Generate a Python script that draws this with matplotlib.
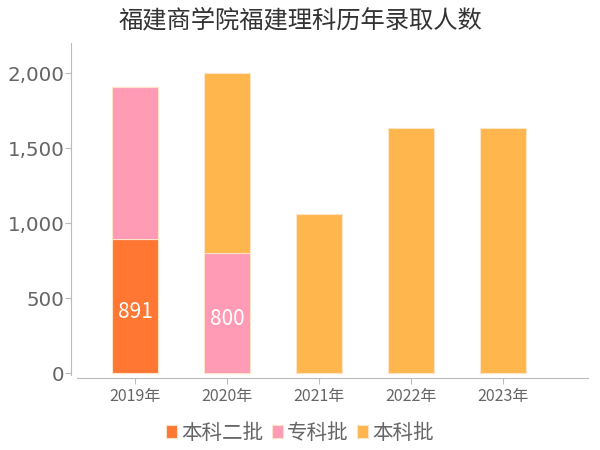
import numpy as np
import matplotlib
matplotlib.use("Agg")
import matplotlib.pyplot as plt

plt.rcParams['font.family'] = ['Noto Sans CJK SC', 'DejaVu Sans']

years = ["2019年", "2020年", "2021年", "2022年", "2023年"]
benke2 = [891, 0, 0, 0, 0]        # 本科二批
zhuanke = [1016, 800, 0, 0, 0]     # 专科批
benke = [0, 1200, 1062, 1632, 1632]  # 本科批

series = [("本科二批", benke2, "#ff7733"),
          ("专科批", zhuanke, "#ff9bb5"),
          ("本科批", benke, "#ffb74d")]

fig = plt.figure(figsize=(6, 4.5), dpi=100)
ax = fig.add_axes([77 / 600, 0.16, 511 / 600, 0.7444])

x = np.arange(len(years))
bottom = np.zeros(len(years))
for name, vals, col in series:
    vals = np.array(vals, dtype=float)
    ax.bar(x, vals, 0.5, bottom=bottom, color=col, edgecolor="#fde3c8",
           linewidth=0.8, label=name)
    for i, v in enumerate(vals):
        if v > 0 and v < 900:
            # label in the middle of the segment, nudged down a bit
            ax.annotate(f"{int(v)}", (x[i], bottom[i] + v / 2), xytext=(0, -4),
                        textcoords="offset points", ha="center", va="center",
                        color="white", fontsize=15)
    bottom += vals

ax.set_xlim(-0.63, 4.92)
ax.set_ylim(-33, 2200)
ax.set_xticks(x)
ax.set_xticklabels(years)
ax.set_yticks([0, 500, 1000, 1500, 2000])
ax.set_yticklabels(["0", "500", "1,000", "1,500", "2,000"])
ax.tick_params(axis="y", length=4, color="#bbbbbb", pad=1, labelsize=14.3,
               labelcolor="#666666", labelfontfamily="DejaVu Sans")
ax.tick_params(axis="x", length=4, color="#bbbbbb", pad=3, labelsize=11.5,
               labelcolor="#666666")
for s in ["top", "right"]:
    ax.spines[s].set_visible(False)
ax.spines["left"].set_color("#bbbbbb")
ax.spines["left"].set_position(("outward", 4))
ax.spines["left"].set_bounds(-10, 2200)
ax.spines["bottom"].set_color("#bbbbbb")

fig.text(0.5, 0.955, "福建商学院福建理科历年录取人数", ha="center", va="center",
         fontsize=17.5, color="#333333")

leg = fig.legend(loc="center", bbox_to_anchor=(0.5, 0.038), ncol=3, frameon=False,
                 fontsize=14.8, handlelength=0.55, handleheight=0.55, handletextpad=0.2,
                 columnspacing=0.4, labelcolor="#666666")

fig.savefig("out.png", dpi=100)
